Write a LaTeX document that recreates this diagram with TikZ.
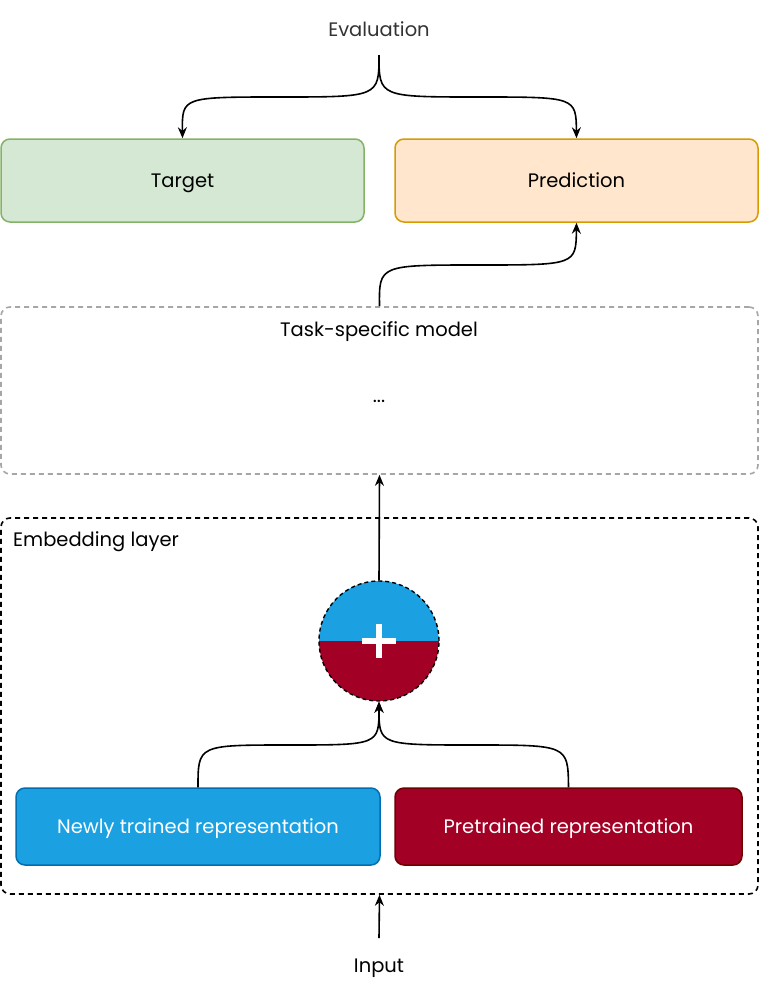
\documentclass[tikz,border=0pt]{standalone}
\usepackage{fontspec}
\setmainfont{Poppins}
\usepackage{tikz}
\usetikzlibrary{arrows.meta,positioning,calc}
\definecolor{tgtfill}{HTML}{D5E8D4}
\definecolor{tgtline}{HTML}{82B366}
\definecolor{predfill}{HTML}{FFE6CC}
\definecolor{predline}{HTML}{D79B00}
\definecolor{newfill}{HTML}{1BA1E2}
\definecolor{newline}{HTML}{006EAF}
\definecolor{prefill}{HTML}{A20025}
\definecolor{preline}{HTML}{6F0000}
\definecolor{taskline}{HTML}{A6A6A6}
\definecolor{evaltext}{HTML}{333333}
\begin{document}
\begin{tikzpicture}[x=1pt,y=-1pt,
    every node/.style={font=\fontsize{19.5}{23}\selectfont,text height=14pt,text depth=0pt},
    box/.style={draw,rounded corners=9pt,line width=1.5pt,inner sep=0pt},
    dashbox/.style={box,dash pattern=on 5pt off 4pt,line width=1.6pt},
    flow/.style={-{Stealth[length=11pt,width=9pt]},line width=1.6pt}]
    \useasboundingbox (0,0) rectangle (759,993);
    % output side
    \node[text=evaltext] (eval) at (379,29) {Evaluation};
    \node[box,fill=tgtfill,draw=tgtline,minimum width=363pt,minimum height=83pt] (target) at (182.5,180.5) {Target};
    \node[box,fill=predfill,draw=predline,minimum width=363pt,minimum height=83pt] (pred) at (576.5,180.5) {Prediction};
    \node[dashbox,draw=taskline,minimum width=757pt,minimum height=167pt] (task) at (379.5,390.5) {};
    \node (tasklabel) at (379,329) {Task-specific model};
    \node (taskdots) at (379,395) {...};
    % embedding side
    \node[dashbox,minimum width=757pt,minimum height=376pt] (embed) at (379.5,706) {};
    \node[anchor=west,inner sep=0pt] (embedlabel) at (13,539) {Embedding layer};
    \node[circle,draw,dash pattern=on 4pt off 3pt,line width=1.4pt,minimum size=120pt,
        path picture={
            \fill[newfill] (path picture bounding box.west) rectangle (path picture bounding box.north east);
            \fill[prefill] (path picture bounding box.west) rectangle (path picture bounding box.south east);
            \draw[white,solid,line width=6pt] ($(path picture bounding box.center)+(-17,0)$) -- ++(34,0);
            \draw[white,solid,line width=6pt] ($(path picture bounding box.center)+(0,-17)$) -- ++(0,34);
        }] (sum) at (379,641) {};
    \node[box,fill=newfill,draw=newline,text=white,minimum width=364pt,minimum height=77pt] (newrep) at (198,826.5) {Newly trained representation};
    \node[box,fill=prefill,draw=preline,text=white,minimum width=347pt,minimum height=77pt] (prerep) at (568.5,826.5) {Pretrained representation};
    \node (input) at (379,965) {Input};
    \coordinate (evalfork) at (379,55);
    \coordinate (inputfeed) at (379,938);
    % connectors
    \draw[flow] (evalfork) .. controls (379,97) and (379,97) .. (280,97) .. controls (182,97) and (182,97) .. (target.north);
    \draw[flow] (evalfork) .. controls (379,97) and (379,97) .. (478,97) .. controls (576,97) and (576,97) .. (pred.north);
    \draw[flow] (task.north) .. controls (379,265) and (379,265) .. (478,265) .. controls (576,265) and (576,265) .. (pred.south);
    \draw[flow] (sum.north) -- (task.south);
    \draw[flow] (newrep.north) .. controls (198,745) and (198,745) .. (288,745) .. controls (379,745) and (379,745) .. (sum.south);
    \draw[flow] (prerep.north) .. controls (568,745) and (568,745) .. (474,745) .. controls (379,745) and (379,745) .. (sum.south);
    \draw[flow] (inputfeed) -- (embed.south);
\end{tikzpicture}
\end{document}
